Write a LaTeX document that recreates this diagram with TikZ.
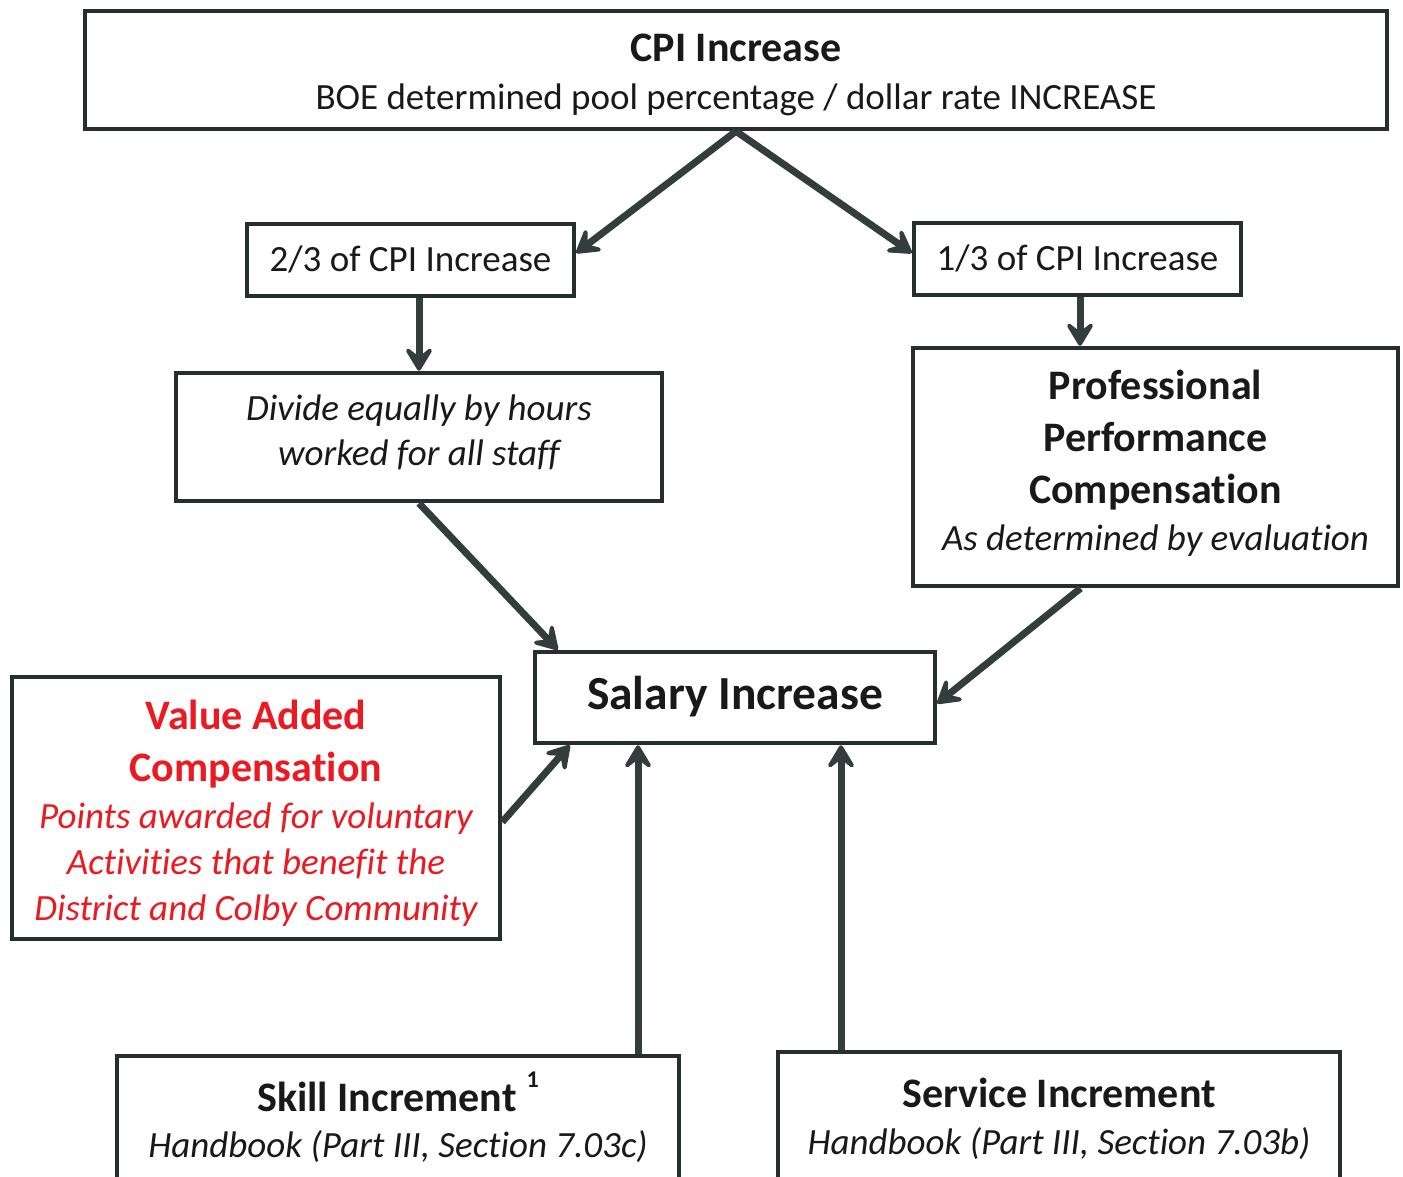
\documentclass[tikz,border=0pt]{standalone}
\usepackage{fontspec}
\setmainfont{Carlito}[Ligatures={NoCommon,NoContextual,NoRare}, RawFeature={-liga;-clig;-calt;-dlig}]
\usetikzlibrary{arrows.meta}
\definecolor{ink}{RGB}{40,46,46}
\definecolor{arrowink}{RGB}{52,60,60}
\definecolor{textink}{RGB}{25,25,25}
\definecolor{varedink}{RGB}{234,26,34}

\begin{document}
\begin{tikzpicture}[x=1pt,y=-1pt,
  box/.style={draw=ink, line width=4.5pt, fill=white, inner sep=0pt, rectangle},
  txt/.style={anchor=base, inner sep=0pt, text=textink},
  reg/.style={font=\fontsize{37}{45}\selectfont},
  ital/.style={font=\fontsize{37}{45}\selectfont\itshape},
  head/.style={font=\fontsize{42}{52}\selectfont\bfseries},
  flow/.style={draw=arrowink, line width=7pt,
    -{Stealth[length=30pt,width=36pt,inset=14pt,round]}}
]
\useasboundingbox (0,0) rectangle (1403,1177);
\fill[white] (0,0) rectangle (1403,1177);

% top: CPI pool
\node[box, minimum width=1302pt, minimum height=118pt] (cpi) at (736,70) {};
\node[txt, head] (cpiA) at (736,62) {CPI Increase};
\node[txt, reg] (cpiB) at (736,110) {BOE determined pool percentage / dollar rate INCREASE};

% split of the pool
\node[box, minimum width=327pt, minimum height=72pt] (two) at (410.5,260) {};
\node[txt, reg] (twoA) at (410.5,271) {2/3 of CPI Increase};
\node[box, minimum width=327pt, minimum height=72pt] (one) at (1077.5,259) {};
\node[txt, reg] (oneA) at (1077.5,270) {1/3 of CPI Increase};

% equal share
\node[box, minimum width=486pt, minimum height=128pt] (div) at (419,437) {};
\node[txt, ital] (divA) at (419,420) {Divide equally by hours};
\node[txt, ital] (divB) at (419,465) {worked for all staff};

% performance share
\node[box, minimum width=485pt, minimum height=238pt] (ppc) at (1155.5,467) {};
\node[txt, head] (ppcA) at (1155.5,399) {Professional};
\node[txt, head] (ppcB) at (1155.5,451) {Performance};
\node[txt, head] (ppcC) at (1155.5,503) {Compensa\kern0pt tion};
\node[txt, ital] (ppcD) at (1155.5,550) {As determined by evaluation};

% result
\node[box, minimum width=400pt, minimum height=91pt] (sal) at (735,697.5) {};
\node[txt, font=\fontsize{47.5}{56}\selectfont\bfseries] (salA) at (735,709) {Salary Increase};

% value added
\node[box, minimum width=488pt, minimum height=262pt] (val) at (256,808) {};
\node[txt, head, text=varedink] (valA) at (256,729) {Value Added};
\node[txt, head, text=varedink] (valB) at (256,781) {Compensa\kern0pt tion};
\node[txt, ital, text=varedink] (valC) at (256,828) {Points awarded for voluntary};
\node[txt, ital, text=varedink] (valD) at (256,874) {Activi\kern0pt ties that bene\kern0pt fit the};
\node[txt, ital, text=varedink] (valE) at (256,920) {District and Colby Community};

% increments
\node[box, minimum width=562pt, minimum height=128pt] (skill) at (398,1120) {};
\node[txt, head] (skillA) at (398,1111) {Skill Increment\hspace{10pt}\raisebox{24pt}{\fontsize{24}{24}\selectfont 1}};
\node[txt, ital] (skillB) at (398,1157) {Handbook (Part III, Sec\kern0pt tion 7.03c)};
\node[box, minimum width=562pt, minimum height=130pt] (serv) at (1059,1117) {};
\node[txt, head] (servA) at (1059,1107) {Service Increment};
\node[txt, ital] (servB) at (1059,1154) {Handbook (Part III, Sec\kern0pt tion 7.03b)};

% connectors
\draw[flow] (cpi.south) -- ([yshift=7pt]two.east);
\draw[flow] (cpi.south) -- ([yshift=6pt]one.west);
\draw[flow] (two.south -| div.north) -- (div.north);
\draw[flow] ([xshift=2.5pt]one.south) -- ([xshift=2.5pt]one.south |- ppc.north);
\draw[flow] (div.south) -- ([xshift=25pt]sal.north west);
\draw[flow] ([xshift=-75pt]ppc.south) -- ([yshift=-6pt]sal.east);
\draw[flow] ([yshift=-14pt]val.east) -- ([xshift=37pt]sal.south west);
\draw[flow] ([xshift=-97pt]sal.south |- skill.north) -- ([xshift=-97pt]sal.south);
\draw[flow] ([xshift=106pt]sal.south |- serv.north) -- ([xshift=106pt]sal.south);
\end{tikzpicture}
\end{document}
